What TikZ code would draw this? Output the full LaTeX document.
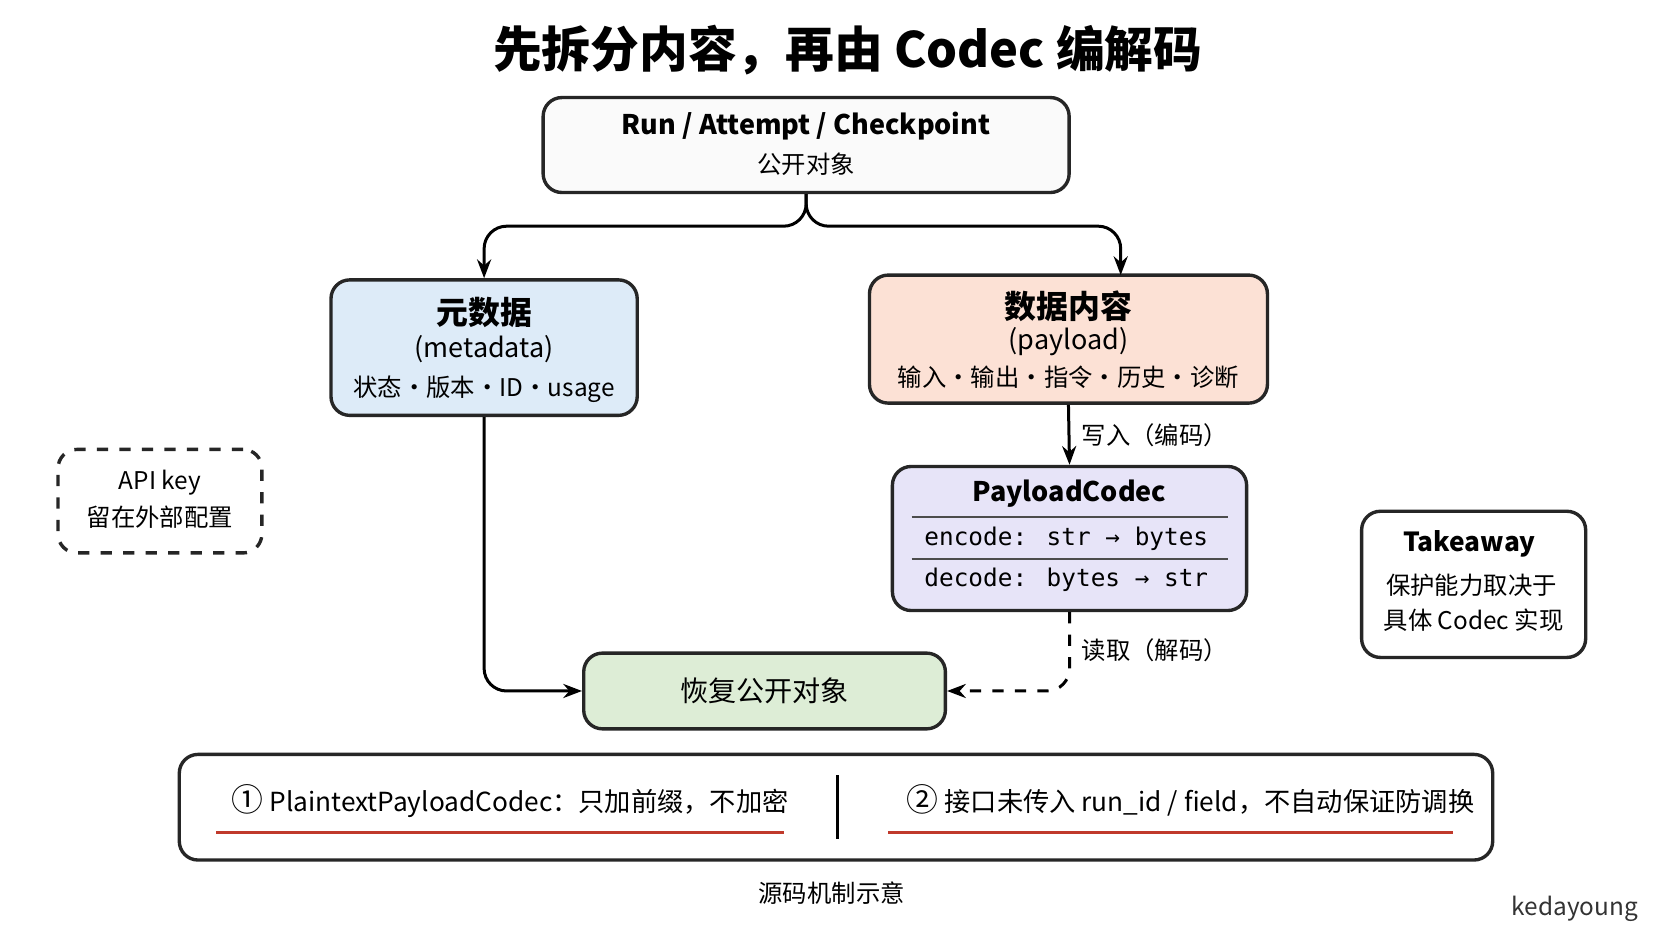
\documentclass[tikz,border=0pt]{standalone}
\usepackage{fontspec}
\setmainfont{Noto Sans CJK SC}
\newfontfamily\codefont{DejaVu Sans Mono}
\usetikzlibrary{positioning,arrows.meta}
\definecolor{metablue}{HTML}{DDEBF8}
\definecolor{payorange}{HTML}{FCE1D5}
\definecolor{codecviolet}{HTML}{E7E4F8}
\definecolor{restoregreen}{HTML}{DDEDD6}
\definecolor{lineRed}{HTML}{C0392B}
\tikzset{
  box/.style={draw=black!85, line width=0.9pt, rounded corners=5pt, align=center, inner sep=0pt},
  lbl/.style={font=\fontsize{6.5}{8}\selectfont},
  flow/.style={-{Stealth[length=5pt]}, line width=0.8pt},
}
\begin{document}
\begin{tikzpicture}[x=0.01cm, y=-0.01cm]
    \useasboundingbox[fill=white] (0,0) rectangle (1568,881);
    % title
    \node[font=\fontsize{13}{15}\selectfont\bfseries] (title) at (795,47) {先拆分内容，再由 Codec 编解码};

    % boxes
    \node[box, fill=black!2, minimum width=4.93cm, minimum height=0.89cm] (pub) at (756,136) {};
    \node[lbl, font=\fontsize{7.2}{9}\selectfont\bfseries] at (756,118) {Run / Attempt / Checkpoint};
    \node[lbl] at (756,154) {公开对象};

    \node[box, fill=metablue, minimum width=2.87cm, minimum height=1.27cm] (meta) at (454,326) {};
    \node[font=\fontsize{8.5}{10}\selectfont\bfseries] at (454,293) {元数据};
    \node[font=\fontsize{7.2}{9}\selectfont] at (454,327) {(metadata)};
    \node[lbl] at (454,365) {状态・版本・ID・usage};

    \node[box, fill=payorange, minimum width=3.73cm, minimum height=1.2cm] (pay) at (1002,318) {};
    \node[font=\fontsize{8.5}{10}\selectfont\bfseries] at (1002,287) {数据内容};
    \node[font=\fontsize{7.2}{9}\selectfont] at (1002,320) {(payload)};
    \node[lbl] at (1002,354) {输入・输出・指令・历史・诊断};

    \node[box, fill=codecviolet, minimum width=3.32cm, minimum height=1.35cm] (codec) at (1003,505) {};
    \node[font=\fontsize{7.2}{9}\selectfont\bfseries] at (1003,463) {PayloadCodec};
    \draw[black!70, line width=0.5pt] (855,485) -- (1152,485);
    \draw[black!70, line width=0.5pt] (855,524) -- (1152,524);
    \node[font=\fontsize{6.5}{8}\codefont] at (1000,505) {encode: str → bytes};
    \node[font=\fontsize{6.5}{8}\codefont] at (1000,544) {decode: bytes → str};

    \node[box, fill=restoregreen, minimum width=3.39cm, minimum height=0.71cm, font=\fontsize{7.5}{9}\selectfont] (restore) at (717,648) {恢复公开对象};

    \node[box, dashed, minimum width=1.91cm, minimum height=0.97cm] (api) at (150,470) {};
    \node[lbl] at (150,453) {API key};
    \node[lbl] at (150,485) {留在外部配置};

    \node[box, minimum width=2.1cm, minimum height=1.37cm] (take) at (1382,548) {};
    \node[font=\fontsize{7}{9}\selectfont\bfseries] at (1378,510) {Takeaway};
    \node[lbl] at (1380,549) {保护能力取决于};
    \node[lbl] at (1382,582) {具体 Codec 实现};

    % connectors
    \draw[flow, rounded corners=6pt] (pub.south) -- ++(0,30) -| (meta.north);
    \draw[flow, rounded corners=6pt] (pub.south) -- ++(0,30) -| (1051,258);
    \draw[flow] (pay.south) -- (codec.north);
    \node[lbl] at (1083,408) {写入（编码）};
    \draw[flow, dashed, rounded corners=6pt] (codec.south) |- (restore.east);
    \draw[flow, rounded corners=6pt] (meta.south) |- (restore.west);
    \node[lbl] at (1083,610) {读取（解码）};

    % notes
    \node[box, minimum width=12.31cm, minimum height=0.99cm] (notes) at (784,757) {};
    \draw[line width=0.8pt] (785,727) -- (785,787);
    \node[lbl, font=\fontsize{7}{9}\selectfont, anchor=west] at (205,751) {{\fontsize{8.5}{9}\selectfont ①}\ PlaintextPayloadCodec：只加前缀，不加密};
    \node[lbl, font=\fontsize{7}{9}\selectfont, anchor=west] at (838,751) {{\fontsize{8.5}{9}\selectfont ②}\ 接口未传入 run\_id / field，不自动保证防调换};
    \draw[lineRed, line width=0.9pt] (203,781) -- (735,781);
    \draw[lineRed, line width=0.9pt] (833,781) -- (1363,781);

    \node[lbl] at (780,838) {源码机制示意};
    \node[lbl, black!80] at (1477,852) {kedayoung};
\end{tikzpicture}
\end{document}
